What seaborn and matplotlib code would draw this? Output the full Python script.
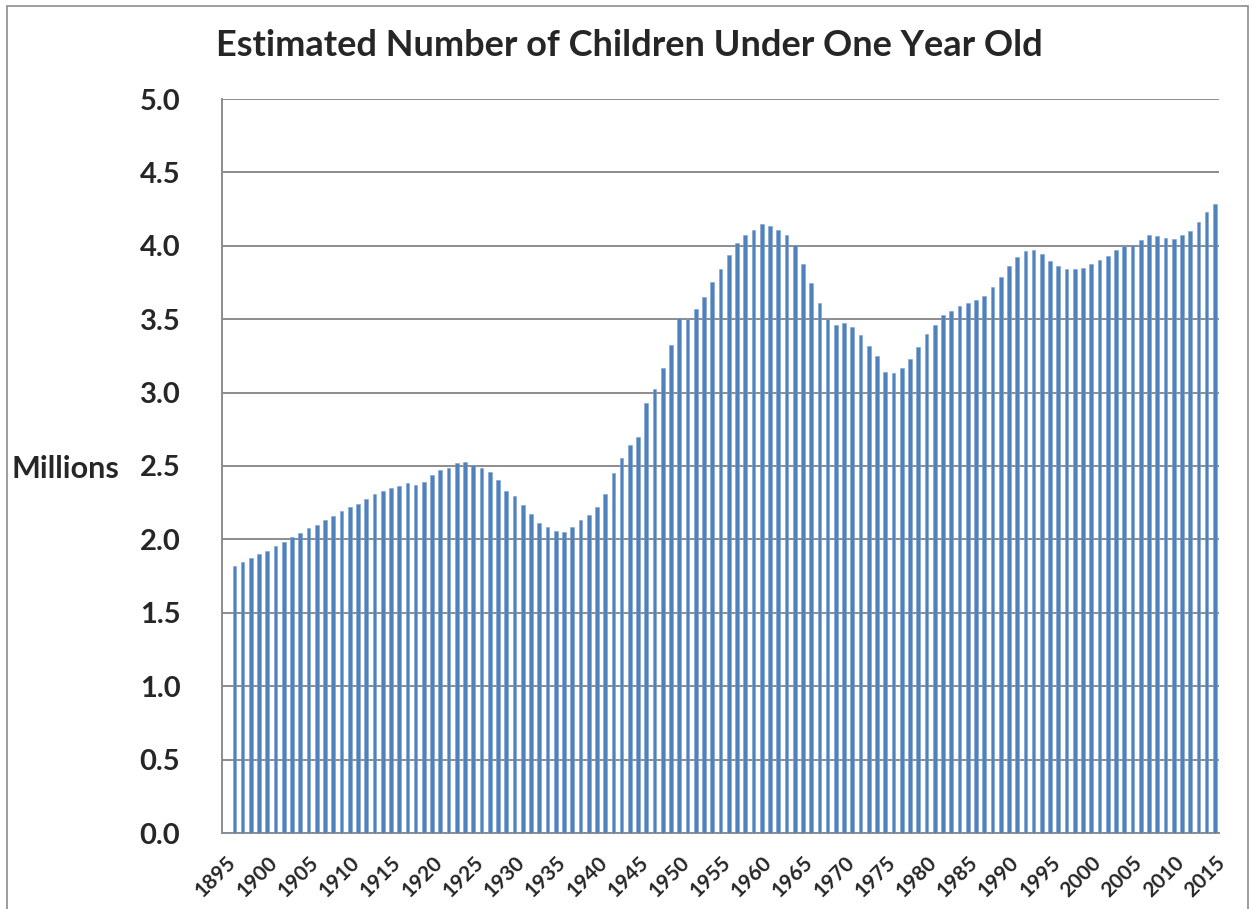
import numpy as np
import pandas as pd
import matplotlib.pyplot as plt
import matplotlib.patches as patches
import seaborn as sns

sns.set_style("white")
plt.rcParams['font.family'] = ['Lato', 'DejaVu Sans']

# years on the category axis (1895 has no bar)
years = list(range(1895, 2016))
# estimated children under one year old, millions
births = [
    np.nan, 1.82, 1.844, 1.873, 1.90, 1.919, 1.953, 1.982, 2.014, 2.044,
    2.075, 2.10, 2.132, 2.159, 2.196, 2.219, 2.241, 2.275, 2.309, 2.33,
    2.35, 2.366, 2.384, 2.368, 2.391, 2.439, 2.471, 2.486, 2.518, 2.527,
    2.505, 2.486, 2.457, 2.407, 2.332, 2.293, 2.234, 2.173, 2.114, 2.082,
    2.057, 2.048, 2.082, 2.132, 2.164, 2.219, 2.309, 2.452, 2.554, 2.645,
    2.70, 2.927, 3.027, 3.165, 3.324, 3.508, 3.501, 3.57, 3.651, 3.753,
    3.842, 3.939, 4.019, 4.076, 4.11, 4.146, 4.135, 4.11, 4.076, 4.005,
    3.878, 3.744, 3.612, 3.501, 3.458, 3.474, 3.447, 3.394, 3.32, 3.247,
    3.142, 3.131, 3.165, 3.231, 3.311, 3.397, 3.463, 3.527, 3.556, 3.588,
    3.61, 3.629, 3.656, 3.719, 3.79, 3.86, 3.921, 3.962, 3.971, 3.942,
    3.896, 3.862, 3.844, 3.842, 3.851, 3.876, 3.901, 3.933, 3.971, 3.999,
    4.003, 4.04, 4.071, 4.065, 4.053, 4.049, 4.071, 4.101, 4.162, 4.228,
    4.287,
]
y_ticks = [0.0, 0.5, 1.0, 1.5, 2.0, 2.5, 3.0, 3.5, 4.0, 4.5, 5.0]

df = pd.DataFrame({'Year': [str(y) for y in years], 'Millions': births})

fig = plt.figure(figsize=(12.52, 9.09), dpi=100)
ax = fig.add_axes([222 / 1252, 76 / 909, 997 / 1252, 734 / 909])

sns.barplot(data=df, x='Year', y='Millions', order=df['Year'].tolist(),
            color='#4F81BD', saturation=1, width=0.45, errorbar=None,
            edgecolor='#7FA3D3', linewidth=0.4, ax=ax, zorder=3)

ax.set_xlim(-0.5, len(years) - 0.5)
ax.set_ylim(0, 5)
ax.set_yticks(y_ticks)
ax.set_yticklabels([f"{v:.1f}" for v in y_ticks], fontsize=21, fontweight='bold')
ax.tick_params(axis='y', length=0, pad=30)

tick_pos = list(range(0, len(years), 5))
ax.set_xticks(tick_pos)
ax.set_xticklabels([str(years[i]) for i in tick_pos], rotation=45, ha='right',
                   rotation_mode='anchor', fontsize=15, fontweight='bold')
ax.tick_params(axis='x', length=0, pad=14)

ax.grid(axis='y', color='#8C8C8C', linewidth=1.4, zorder=0)
ax.set_axisbelow(True)
for side in ['top', 'right']:
    ax.spines[side].set_visible(False)
for side in ['left', 'bottom']:
    ax.spines[side].set_color('#8C8C8C')
    ax.spines[side].set_linewidth(1.4)
ax.set_xlabel('')
ax.set_ylabel('')

fig.text(12 / 1252, 1 - 469 / 909, 'Millions', fontsize=22, fontweight='bold',
         ha='left', va='center')
fig.text(629 / 1252, 1 - 45 / 909, 'Estimated Number of Children Under One Year Old',
         fontsize=26, fontweight='bold', ha='center', va='center')

# outer chart border
fig.patches.append(patches.Rectangle((6.5 / 1252, -0.01), 1241 / 1252, 1.01 - 5.5 / 909,
                                     transform=fig.transFigure, fill=False,
                                     edgecolor='#8C8C8C', linewidth=1.2))

plt.savefig('out.png', dpi=100)
